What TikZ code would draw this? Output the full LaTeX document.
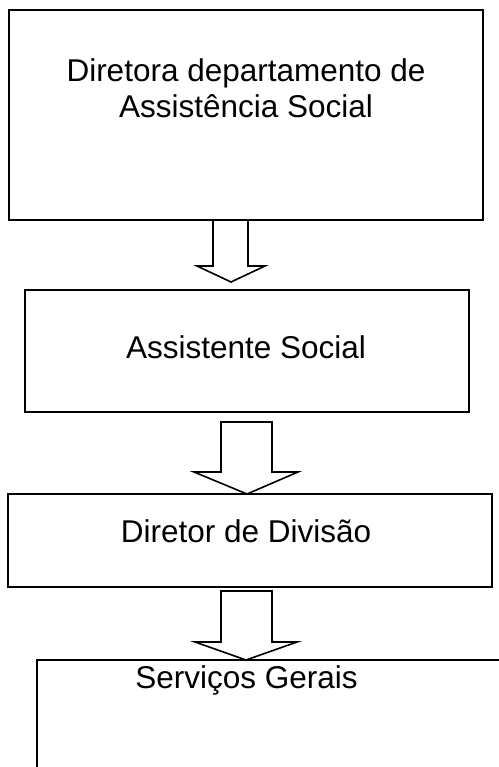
\documentclass[tikz,border=0pt]{standalone}
\usepackage{fontspec}
\setmainfont{Liberation Sans}
\begin{document}
\begin{tikzpicture}[x=1pt,y=-1pt,
  box/.style={draw=black, line width=1.6pt, fill=none, outer sep=0pt, inner sep=0pt},
  lbl/.style={anchor=base, inner sep=0pt, font=\fontsize{31.5}{36}\selectfont},
  blockarrow/.style={draw=black, line width=1.6pt, line join=miter}]
\useasboundingbox (0,0) rectangle (498,767);
% boxes
\node[box, minimum width=474pt, minimum height=210pt] (b1) at (246,115) {};
\node[box, minimum width=444pt, minimum height=122pt] (b2) at (247,351) {};
\node[box, minimum width=484pt, minimum height=93pt] (b3) at (250,540.5) {};
\node[box, minimum width=523pt, minimum height=160pt] (b4) at (298.5,740) {};
% texts
\node[lbl] (t1a) at (246,82) {Diretora departamento de};
\node[lbl] (t1b) at (246,118) {Assistência Social};
\node[lbl] (t2) at (246,358) {Assistente Social};
\node[lbl] (t3) at (246,542) {Diretor de Divisão};
\node[lbl] (t4) at (246.5,688) {Serviços Gerais};
% block arrows
\draw[blockarrow] (213,0 |- b1.south) -- (213,266) -- (197,266) -- (231,282)
  -- (265,266) -- (248,266) -- (248,0 |- b1.south);
\draw[blockarrow] (221,422) -- (221,472) -- (194,472) -- (247,0 |- b3.north)
  -- (298,472) -- (272,472) -- (272,422) -- cycle;
\draw[blockarrow] (221,591) -- (221,642) -- (195,642) -- (246,0 |- b4.north)
  -- (297,642) -- (272,642) -- (272,591) -- cycle;
\end{tikzpicture}
\end{document}
